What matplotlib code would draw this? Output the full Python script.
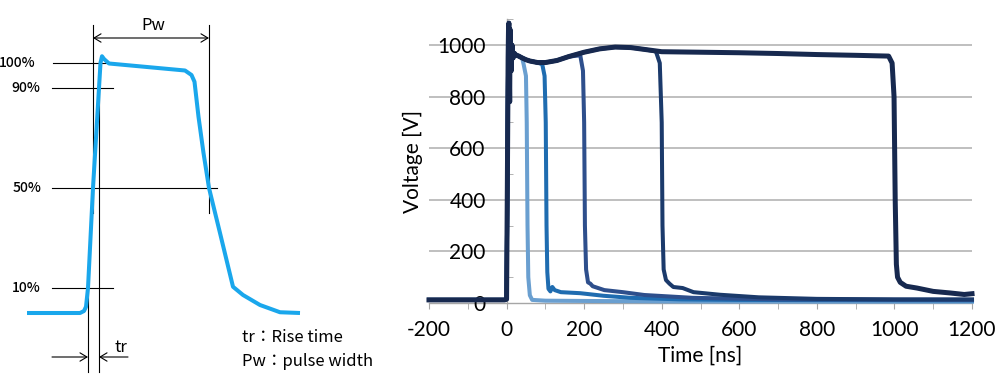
import matplotlib
matplotlib.use("Agg")
import matplotlib.pyplot as plt
from matplotlib.ticker import MultipleLocator

plt.rcParams["axes.unicode_minus"] = False

# ---- left schematic: pulse definition (x in arbitrary time units, y in % of amplitude)
pulse_x = [27, 80, 84, 86, 88, 93, 99, 100.5, 102, 104, 109, 185, 191.5, 194.5,
           198.5, 203.5, 209, 220, 233, 243, 260, 280, 300]
pulse_y = [0, 0, 0.8, 2.5, 10, 50, 90, 100, 102.7, 101.6, 99.8, 97, 95.2, 92.5,
           78.5, 64, 50, 32, 10.5, 7.2, 3.2, 0.3, 0]

level_pct = [100, 90, 50, 10]
level_lbl = ["100%", "90%", "50%", "10%"]
level_lbl_x = [36, 40, 41, 41]
level_x0 = [53, 52, 52, 52]
level_x1 = [115, 113, 217, 113]

# ---- right chart: measured pulses, time [ns] / voltage [V]
env_t = [-200, -100, -5, 0, 2, 4, 5, 6, 7, 8, 9, 10, 12, 14, 17, 20, 25, 30, 40, 50,
         60, 80, 100, 130, 160, 200, 240, 280, 320, 360, 400, 500, 600, 700, 800,
         900, 985]
env_v = [12, 12, 12, 15, 450, 950, 1060, 1085, 900, 780, 1060, 960, 900, 1000, 950, 968,
         960, 958, 950, 943, 938, 932, 932, 940, 955, 972, 985, 992, 990, 982, 974,
         972, 970, 967, 963, 960, 957]

widths = [50, 100, 200, 400, 1000]
colors = ["#6a9fd0", "#1f6cb0", "#2e4f8c", "#1b3a6b", "#17294f"]

fall_t = {
    50: [44, 50, 52, 54, 56, 60, 66, 100, 200, 400, 800, 1200],
    100: [92, 98, 101, 103, 105, 108, 113, 118, 124, 140, 190, 250, 320, 450, 600, 1200],
    200: [190, 197, 200, 202, 205, 210, 216, 222, 252, 300, 355, 480, 700, 1200],
    400: [385, 395, 400, 402, 405, 411, 420, 430, 454, 482, 550, 650, 800, 1000, 1200],
    1000: [985, 994, 999, 1002, 1005, 1008, 1015, 1030, 1058, 1100, 1143, 1180, 1200],
}
fall_v = {
    50: [925, 880, 700, 300, 100, 30, 12, 9, 8, 6, 5, 5],
    100: [925, 880, 700, 300, 120, 55, 45, 62, 50, 42, 38, 28, 20, 14, 12, 10],
    200: [960, 900, 700, 300, 130, 80, 75, 65, 50, 42, 31, 20, 14, 12],
    400: [975, 930, 700, 300, 130, 89, 75, 62, 58, 42, 32, 22, 16, 14, 14],
    1000: [957, 930, 800, 400, 150, 100, 80, 65, 58, 45, 39, 33, 36],
}

fig = plt.figure(figsize=(10, 3.78), dpi=100)

# ================= left schematic =================
cjk = ["Noto Sans CJK JP", "DejaVu Sans"]
ax0 = fig.add_axes([0, 0, 0.4, 1])
ax0.set_xlim(0, 400)
ax0.set_ylim(-26, 125.2)
ax0.axis("off")

ax0.plot(pulse_x, pulse_y, color="#1aa7ec", lw=2.9, solid_capstyle="butt",
         solid_joinstyle="round", zorder=3)

for p, lb, lx, x0, x1 in zip(level_pct, level_lbl, level_lbl_x, level_x0, level_x1):
    ax0.plot([x0, x1], [p, p], color="black", lw=0.8, zorder=2)
    ax0.text(lx, p, lb, ha="right", va="center", fontsize=10, family=cjk,
             fontweight="medium")

# vertical markers
ax0.plot([93, 93], [40, 115.2], color="black", lw=0.8)
ax0.plot([209, 209], [40, 115.2], color="black", lw=0.8)
ax0.plot([88, 88], [14.4, -23.6], color="black", lw=0.8)
ax0.plot([99, 99], [101, -23.6], color="black", lw=0.8)

arrow = dict(lw=0.8, color="black", shrinkA=0, shrinkB=0, mutation_scale=10)

# Pw arrow
ax0.annotate("", xy=(209, 110), xytext=(93, 110),
             arrowprops=dict(arrowstyle="<->,head_length=0.5,head_width=0.3", **arrow))
ax0.text(153, 114.8, "Pw", ha="center", va="center", fontsize=12, family=cjk)

# tr arrows
ax0.annotate("", xy=(88, -17.6), xytext=(52, -17.6),
             arrowprops=dict(arrowstyle="->,head_length=0.5,head_width=0.3", **arrow))
ax0.annotate("", xy=(99, -17.6), xytext=(128, -17.6),
             arrowprops=dict(arrowstyle="->,head_length=0.5,head_width=0.3", **arrow))
ax0.text(121, -13.6, "tr", ha="center", va="center", fontsize=12, family=cjk)

ax0.text(242, -10, "tr：Rise time", ha="left", va="center", fontsize=12, family=cjk)
ax0.text(242, -19.2, "Pw：pulse width", ha="left", va="center", fontsize=12, family=cjk)

# ================= right chart =================
font = ["Lato", "DejaVu Sans"]
ax = fig.add_axes([0.429, 75 / 378, 0.543, 283.8 / 378])
ax.set_xlim(-200, 1200)
ax.set_ylim(0, 1100)

for w, c in zip(widths, colors):
    ft = fall_t[w]
    fv = fall_v[w]
    t = [x for x in env_t if x < ft[0]] + ft
    v = [y for x, y in zip(env_t, env_v) if x < ft[0]] + fv
    ax.plot(t, v, color=c, lw=3.6 if w == 1000 else 2.9, solid_joinstyle="round",
            zorder=3, clip_on=False)

for s in ["top", "right"]:
    ax.spines[s].set_visible(False)
ax.spines["left"].set_position(("data", 0))
ax.spines["bottom"].set_position(("data", 0))
for s in ["left", "bottom"]:
    ax.spines[s].set_color("#a6a6a6")
    ax.spines[s].set_linewidth(1.0)
    ax.spines[s].set_zorder(1)

ax.yaxis.set_major_locator(MultipleLocator(200))
ax.yaxis.set_minor_locator(MultipleLocator(100))
ax.xaxis.set_major_locator(MultipleLocator(200))
ax.xaxis.set_minor_locator(MultipleLocator(100))

for y in range(200, 1001, 200):
    ax.axhline(y, color="#b4b4b4", lw=1.2, zorder=0)

ax.tick_params(axis="y", which="major", length=0, pad=15, labelsize=15)
ax.tick_params(axis="y", which="minor", length=4.5, direction="in", color="#a6a6a6")
ax.tick_params(axis="x", which="both", length=4.5, direction="out", color="#a6a6a6")
ax.tick_params(axis="x", which="major", pad=8, labelsize=15)
for lab in ax.get_xticklabels() + ax.get_yticklabels():
    lab.set_family(font)

ax.set_xlabel("Time [ns]", fontsize=15, family=font)
ax.set_ylabel("Voltage [V]", fontsize=15, family=font)
ax.xaxis.set_label_coords(0.5, -0.15)
ax.yaxis.set_label_coords(-0.011, 0.5)

fig.savefig("out.png", dpi=100)
